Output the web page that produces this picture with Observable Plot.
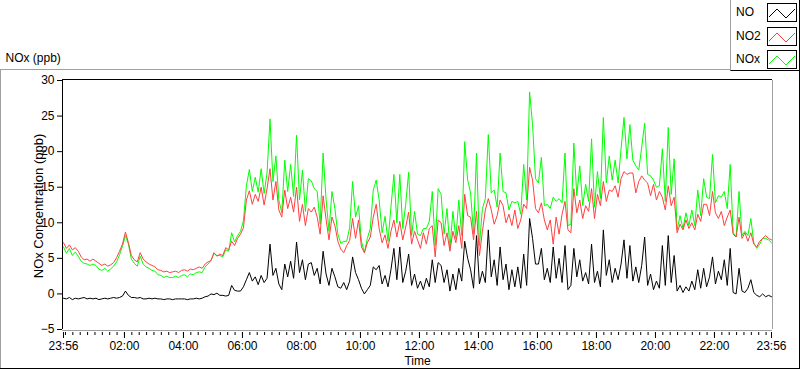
<!DOCTYPE html>
<html><head><meta charset="utf-8">
<script src="https://cdn.jsdelivr.net/npm/d3@7"></script>
<script src="https://cdn.jsdelivr.net/npm/@observablehq/plot@0.6"></script>
<style>
html,body{margin:0;padding:0;background:#fff;}
#wrap{position:relative;width:800px;height:369px;overflow:hidden;font-family:"Liberation Sans",Arial,sans-serif;font-size:12px;color:#000;background:#fff;}
#wrap svg.plot{position:absolute;left:0;top:0;}
.ln{position:absolute;}
#legend{position:absolute;left:730px;top:0;width:68px;height:70px;border-left:1px solid #a0a0a0;border-right:1px solid #000;border-bottom:1px solid #000;background:#fff;z-index:3;}
.item{position:absolute;left:5px;height:18px;line-height:18px;}
.sw{position:absolute;left:36px;}
</style>
</head><body>
<div id="wrap">
  <div class="ln" style="left:0;top:69px;width:730px;height:1px;background:#a0a0a0;"></div>
  <div class="ln" style="left:0;top:69px;width:1px;height:300px;background:#a0a0a0;"></div>
  <div class="ln" style="left:0;top:368px;width:800px;height:1px;background:#000;"></div>
  <div class="ln" style="left:799px;top:71px;width:1px;height:298px;background:#000;"></div>
  <div id="legend"></div>
</div>
<script>
// ---- data ----
const TITLE = "NOx (ppb)";
const Y_LABEL = "NOx Concentration (ppb)";
const X_LABEL = "Time";
const SERIES = ["NO", "NO2", "NOx"];
const SERIES_COLORS = ["#000000", "#ff4040", "#00ff00"];
const Y_TICKS = [-5, 0, 5, 10, 15, 20, 25, 30];
const X_TICK_LABELS = ["23:56","02:00","04:00","06:00","08:00","10:00","12:00","14:00","16:00","18:00","20:00","22:00","23:56"];
const START = "2000-01-01T23:56:00Z";
const STEP_MIN = 6;

const NO = [
-0.6,-0.7,-0.5,-0.8,-0.6,-0.7,-0.6,-0.5,-0.7,-0.6,
-0.7,-0.6,-0.8,-0.7,-0.6,-0.7,-0.6,-0.5,-0.6,-0.5,
-0.3,0.4,-0.2,-0.5,-0.5,-0.6,-0.5,-0.7,-0.7,-0.6,
-0.7,-0.6,-0.7,-0.7,-0.8,-0.7,-0.7,-0.8,-0.7,-0.7,
-0.7,-0.7,-0.8,-0.7,-0.7,-0.6,-0.7,-0.6,-0.4,-0.3,
0.0,-0.1,0.1,-0.2,-0.2,-0.3,-0.2,1.2,0.5,0.4,
0.4,1.0,2.0,3.0,1.8,2.4,1.3,2.6,1.6,2.2,
7.0,2.6,3.6,1.4,0.6,4.2,2.4,4.6,2.2,7.3,
3.0,4.8,2.0,4.2,4.4,2.6,3.6,1.4,6.0,2.8,
1.2,3.6,2.4,1.0,0.8,1.6,0.6,1.8,5.2,3.0,
2.0,0.8,0.0,0.6,1.2,3.8,3.4,4.0,1.4,2.6,
1.0,3.4,6.4,2.0,6.6,1.6,3.2,5.6,1.2,2.8,
0.8,1.8,0.6,2.2,1.0,4.8,1.6,4.4,4.0,1.6,
3.4,0.4,2.8,0.6,3.6,1.8,7.4,5.0,3.4,0.8,
8.2,1.4,3.2,1.6,9.0,2.4,4.8,1.2,6.6,2.0,
4.2,0.6,3.4,1.0,3.8,0.8,5.6,1.2,10.6,7.8,
4.2,4.2,6.4,2.0,3.6,1.6,6.6,2.2,5.0,1.6,
6.8,0.6,1.2,6.4,2.4,4.8,1.8,3.0,1.4,7.0,
1.6,3.2,1.0,9.0,2.6,4.8,1.6,3.6,2.0,4.2,
7.6,2.2,6.8,1.8,3.8,1.6,4.0,8.0,1.2,2.8,
0.6,1.8,0.8,6.8,1.2,8.2,1.6,5.4,0.4,1.2,
0.2,1.0,0.4,1.8,0.6,3.4,0.8,3.6,1.0,2.4,
5.2,1.4,3.2,2.0,4.8,1.2,6.4,0.2,0.0,3.6,
0.4,0.2,0.8,2.0,0.2,-0.2,-0.4,0.0,-0.4,-0.2,-0.4
];

const NO2 = [
7.2,6.4,6.9,6.2,6.5,6.0,5.2,4.8,4.9,4.6,
4.9,4.6,4.3,4.0,4.2,3.9,4.1,4.4,5.1,6.0,
7.0,8.7,7.2,5.4,4.8,4.5,5.8,4.9,4.5,4.2,
4.0,3.8,3.4,3.3,3.1,3.2,3.0,3.1,3.2,3.0,
3.3,3.4,3.2,3.5,3.4,3.6,3.8,3.6,4.2,4.5,
4.7,5.8,5.3,5.6,5.4,6.5,6.2,7.4,6.8,7.8,
8.4,9.3,13.2,14.5,12.6,14.0,13.0,15.0,12.5,14.8,
17.6,13.2,15.8,11.8,10.8,14.6,12.0,13.6,11.5,15.0,
10.2,12.6,9.6,12.0,11.5,12.2,10.8,8.4,13.8,10.5,
7.6,10.8,9.6,7.4,6.3,5.8,6.8,7.5,10.6,7.8,
10.4,6.6,5.8,7.2,8.0,10.8,12.6,9.2,7.2,8.3,
6.4,8.8,10.4,8.0,10.2,7.6,9.4,11.5,7.0,8.8,
7.6,6.4,8.6,7.0,9.2,9.6,5.2,10.4,10.0,6.8,
8.6,6.0,8.8,7.2,9.6,6.4,14.0,11.0,10.8,7.6,
11.6,5.4,8.8,11.8,13.4,11.8,9.8,11.0,13.2,12.4,
10.0,11.2,9.6,11.8,9.2,10.4,12.6,12.0,17.8,16.0,
12.0,11.4,12.8,10.4,9.0,10.4,7.0,10.8,8.4,11.2,
13.0,9.0,8.6,14.8,11.4,13.2,10.6,12.4,11.6,14.8,
10.6,14.0,12.4,15.8,13.0,14.6,14.4,15.2,13.6,16.2,
17.2,16.8,17.0,17.0,14.2,15.8,16.6,16.0,15.6,13.8,
15.4,13.2,14.4,13.6,11.8,15.2,12.4,13.6,8.6,9.8,
9.0,10.4,9.2,10.0,9.0,11.2,10.2,12.6,12.6,11.0,
14.4,11.4,10.6,11.6,9.6,10.8,11.8,8.4,8.0,10.8,
7.8,8.6,7.4,8.6,7.0,6.6,7.4,7.8,8.2,7.8,7.6
];

const NOX = [
6.6,5.7,6.4,5.4,5.9,5.3,4.6,4.3,4.2,4.0,
4.2,4.0,3.5,3.3,3.6,3.2,3.5,3.9,4.5,5.5,
6.7,8.2,7.0,4.9,4.3,3.9,5.3,4.2,3.8,3.6,
3.3,3.2,2.7,2.6,2.3,2.5,2.3,2.3,2.5,2.3,
2.6,2.7,2.4,2.8,2.7,3.0,3.1,3.0,3.8,4.2,
4.7,5.7,5.4,5.4,5.2,6.2,6.0,8.6,7.3,8.2,
8.8,10.3,15.2,17.5,14.4,16.4,14.3,17.6,14.1,17.0,
24.6,15.8,19.4,13.2,11.4,18.8,14.4,18.2,13.7,22.3,
13.2,17.4,11.6,16.2,15.9,14.8,14.4,9.8,19.8,13.3,
8.8,14.4,12.0,8.4,7.1,7.4,7.4,9.3,15.8,10.8,
12.4,7.4,5.8,7.8,9.2,14.6,16.0,13.2,8.6,10.9,
7.4,12.2,16.8,10.0,16.8,9.2,12.6,17.1,8.2,11.6,
8.4,8.2,9.2,9.2,10.2,14.4,6.8,14.8,14.0,8.4,
12.0,6.4,11.6,7.8,13.2,8.2,21.4,16.0,14.2,8.4,
19.8,6.8,12.0,13.4,22.4,14.2,14.6,12.2,19.8,14.4,
14.2,11.8,13.0,12.8,13.0,11.2,18.2,13.2,28.4,23.8,
16.2,15.6,19.2,12.4,12.6,12.0,13.6,13.0,13.4,12.8,
19.8,9.6,9.8,21.2,13.8,18.0,12.4,15.4,13.0,21.8,
12.2,17.2,13.4,24.8,15.6,19.4,16.0,18.8,15.6,20.4,
24.8,19.0,23.8,18.8,18.0,17.4,20.6,24.0,16.8,16.6,
16.0,15.0,15.2,20.4,13.0,23.4,14.0,19.0,9.0,11.0,
9.2,11.4,9.6,11.8,9.6,14.6,11.0,16.2,13.6,13.4,
19.6,12.8,13.8,13.6,14.4,12.0,18.2,8.6,8.0,14.4,
8.2,8.8,8.2,10.6,7.2,6.4,7.0,7.8,7.8,7.6,7.2
];

// ---- build ----
const t0 = new Date(START);
const times = NO.map((_, i) => new Date(+t0 + i * STEP_MIN * 60000));
const t1 = times[times.length - 1];
const rows = times.map((t, i) => ({t, no: NO[i], no2: NO2[i], nox: NOX[i]}));

const majorTicks = X_TICK_LABELS.map((s, i) => {
  if (i === 0) return t0;
  const [h, m] = s.split(":").map(Number);
  return new Date(Date.UTC(2000, 0, 2, h, m));
});
const minorTicks = d3.utcMinute.every(15).range(t0, new Date(+t1 + 1));

const chart = Plot.plot({
  width: 800, height: 369,
  marginLeft: 62, marginRight: 28, marginTop: 79, marginBottom: 37,
  x: {type: "utc", domain: [t0, t1], range: [63, 771], label: null},
  y: {domain: [-5, 30], range: [329, 80], label: null},
  style: {fontFamily: "Liberation Sans, Arial, sans-serif", fontSize: "12px", color: "#000", background: "transparent", overflow: "visible"},
  marks: [
    Plot.lineY(rows, {x: "t", y: "nox", stroke: SERIES_COLORS[2], strokeWidth: 1}),
    Plot.lineY(rows, {x: "t", y: "no2", stroke: SERIES_COLORS[1], strokeWidth: 1}),
    Plot.lineY(rows, {x: "t", y: "no", stroke: SERIES_COLORS[0], strokeWidth: 1}),
    Plot.ruleY([30], {stroke: "#000", dy: -1}),
    Plot.ruleX([t0], {y1: -5, y2: 30, stroke: "#000", dx: -1}),
    Plot.ruleY([-5], {stroke: "#a0a0a0", dy: 1}),
    Plot.ruleX([t1], {y1: -5, y2: 30, stroke: "#a0a0a0", dx: 1}),
    Plot.axisY({ticks: Y_TICKS, tickSize: 5, tickPadding: 3, label: null}),
    Plot.axisX({ticks: majorTicks, tickFormat: d3.utcFormat("%H:%M"), tickSize: 6, tickPadding: 3, label: null}),
    Plot.axisX({ticks: minorTicks, tickFormat: () => "", tickSize: 3, label: null}),
    Plot.text([Y_LABEL], {frameAnchor: "left", textAnchor: "middle", lineAnchor: "middle", rotate: -90, dx: -24, fontSize: 13}),
    Plot.text([X_LABEL], {frameAnchor: "bottom", textAnchor: "middle", lineAnchor: "middle", dy: 29}),
    Plot.text([TITLE], {frameAnchor: "top-left", textAnchor: "start", lineAnchor: "middle", dx: -57, dy: -21})
  ]
});
document.getElementById("wrap").appendChild(chart);

// ---- legend ----
const legend = document.getElementById("legend");
const rowTops = [3, 27, 50];
SERIES.forEach((name, k) => {
  const lab = document.createElement("div");
  lab.className = "item";
  lab.style.top = rowTops[k] + "px";
  lab.textContent = name;
  legend.appendChild(lab);
  const ns = "http://www.w3.org/2000/svg";
  const sw = document.createElementNS(ns, "svg");
  sw.setAttribute("class", "sw");
  sw.setAttribute("width", 30);
  sw.setAttribute("height", 19);
  sw.style.top = rowTops[k] + "px";
  const r = document.createElementNS(ns, "rect");
  r.setAttribute("x", 0.5); r.setAttribute("y", 0.5);
  r.setAttribute("width", 29); r.setAttribute("height", 18);
  r.setAttribute("fill", "#fff"); r.setAttribute("stroke", "#000");
  sw.appendChild(r);
  const p = document.createElementNS(ns, "polyline");
  p.setAttribute("points", "2,14 10,6 19,15 28,6");
  p.setAttribute("fill", "none");
  p.setAttribute("stroke", SERIES_COLORS[k]);
  p.setAttribute("stroke-width", 1);
  sw.appendChild(p);
  legend.appendChild(sw);
});
</script>
</body></html>
